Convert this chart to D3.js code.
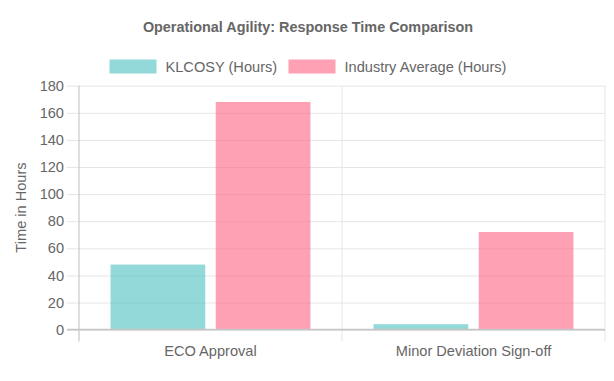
<!DOCTYPE html>
<html>
<head>
<meta charset="utf-8">
<script src="https://cdn.jsdelivr.net/npm/d3@7"></script>
<style>
  html, body { margin: 0; padding: 0; background: #fff; }
  svg { display: block; font-family: "Liberation Sans", Arial, Helvetica, sans-serif; }
</style>
</head>
<body>
<svg id="chart" width="614" height="381"></svg>
<script>
const categories = ["ECO Approval", "Minor Deviation Sign-off"];
const seriesNames = ["KLCOSY (Hours)", "Industry Average (Hours)"];
const klcosyValues = [48, 4];
const industryValues = [168, 72];
const yTicks = [0, 20, 40, 60, 80, 100, 120, 140, 160, 180];
const titleText = "Operational Agility: Response Time Comparison";
const yAxisTitle = "Time in Hours";

const fills = ["rgba(75,192,192,0.6)", "rgba(255,99,132,0.6)"];
const seriesValues = [klcosyValues, industryValues];
const fs = 14.6;

const svg = d3.select("#chart");
const plotLeft = 79, plotRight = 605, plotTop = 85.7, plotBottom = 329.6;

const x = d3.scaleBand().domain(categories).range([plotLeft, plotRight]).paddingInner(0).paddingOuter(0);
const bw = x.bandwidth();
const xs = d3.scaleBand().domain(seriesNames)
  .range([0.1 * bw, 0.9 * bw]).paddingInner(0.1).paddingOuter(0.05);
const y = d3.scaleLinear().domain([0, 180]).range([plotBottom, plotTop]);

// horizontal grid + y ticks
const yAxis = d3.axisLeft(y).tickValues(yTicks).tickSize(plotRight - plotLeft + 12).tickPadding(3).tickFormat(d3.format("d"));
const gy = svg.append("g").attr("transform", `translate(${plotRight},0)`).call(yAxis);
gy.select(".domain").remove();
gy.selectAll(".tick line").attr("stroke", "#e6e6e6").attr("stroke-width", 1);
gy.selectAll(".tick text").attr("fill", "#666").attr("font-size", fs)
  .attr("font-family", "Liberation Sans, Arial, sans-serif");

// vertical grid lines at category boundaries
const bounds = categories.map(c => x(c)).concat([plotRight]);
svg.append("g").selectAll("line").data(bounds).join("line")
  .attr("x1", d => d).attr("x2", d => d)
  .attr("y1", plotTop).attr("y2", plotBottom + 12)
  .attr("stroke", (d, i) => i === 0 ? "#bdbdbd" : "#e6e6e6")
  .attr("stroke-width", 1);

// bars
const groups = svg.append("g").selectAll("g").data(seriesNames).join("g")
  .attr("fill", (d, i) => fills[i]);
groups.selectAll("rect")
  .data((s, si) => categories.map((c, ci) => ({ c, s, v: seriesValues[si][ci] })))
  .join("rect")
  .attr("x", d => x(d.c) + xs(d.s))
  .attr("width", xs.bandwidth())
  .attr("y", d => y(d.v))
  .attr("height", d => y(0) - y(d.v));

// zero line
svg.append("line").attr("x1", plotLeft - 12).attr("x2", plotRight)
  .attr("y1", y(0)).attr("y2", y(0))
  .attr("stroke", "#c6c6c6").attr("stroke-width", 1.6);

// x labels
svg.append("g").selectAll("text").data(categories).join("text")
  .attr("x", d => x(d) + bw / 2).attr("y", 355.5)
  .attr("text-anchor", "middle").attr("fill", "#666").attr("font-size", fs)
  .text(d => d);

// title
svg.append("text").attr("x", 308).attr("y", 31.5)
  .attr("text-anchor", "middle").attr("fill", "#666")
  .attr("font-size", 14.4).attr("font-weight", "bold").text(titleText);

// legend
const legendX = [109.5, 288.5];
const lg = svg.append("g").selectAll("g").data(seriesNames).join("g")
  .attr("transform", (d, i) => `translate(${legendX[i]},59.5)`);
lg.append("rect").attr("width", 47).attr("height", 14)
  .attr("fill", (d, i) => fills[i]);
lg.append("text").attr("x", 56).attr("y", 12).attr("fill", "#666")
  .attr("font-size", fs).text(d => d);

// y axis title
svg.append("text").attr("transform", "translate(26,207.5) rotate(-90)")
  .attr("text-anchor", "middle").attr("fill", "#666").attr("font-size", fs)
  .text(yAxisTitle);
</script>
</body>
</html>
